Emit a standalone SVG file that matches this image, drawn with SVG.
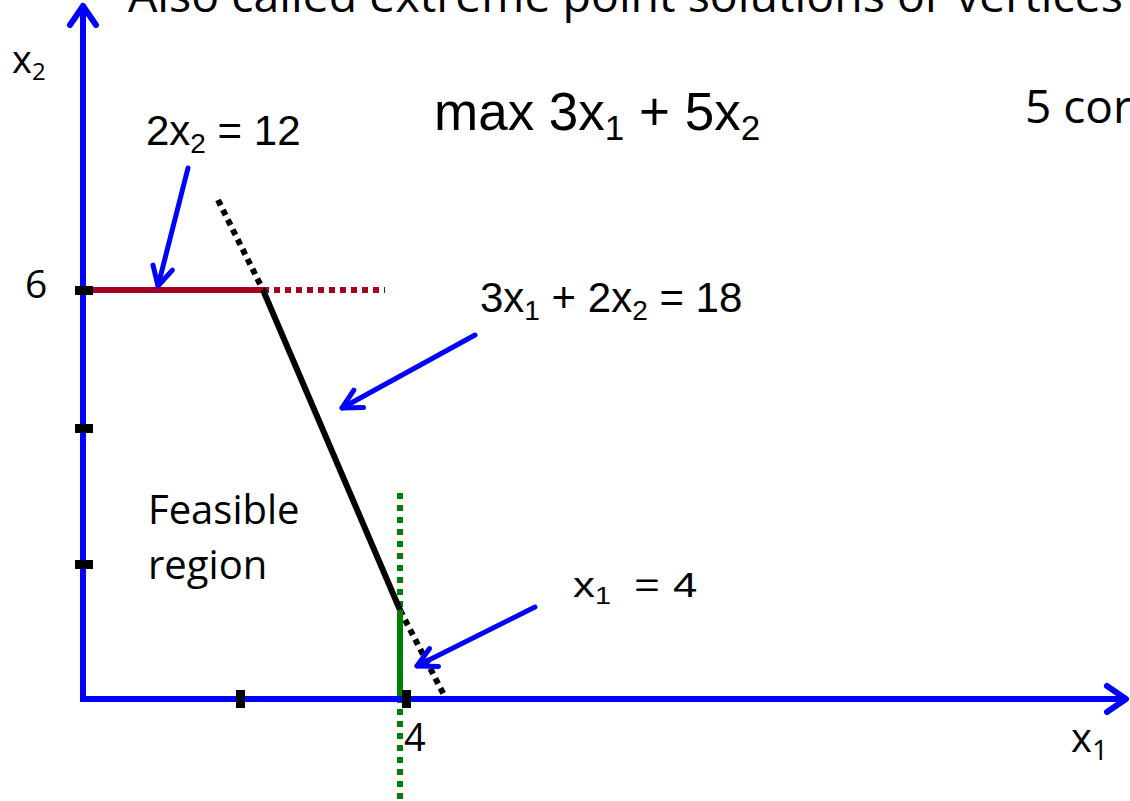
<svg xmlns="http://www.w3.org/2000/svg" width="1130" height="801" viewBox="0 0 1130 801">
<style>
.cal{font-family:"Open Sans","Noto Sans","DejaVu Sans",sans-serif;fill:#000}
.ar{font-family:"Liberation Sans",Arial,sans-serif;fill:#000}
.axis{stroke:#0000FF;stroke-width:6;fill:none}
.ptr{stroke:#0000FF;stroke-width:5;fill:none;stroke-linecap:round}
.tick{fill:#000}
</style>
<defs>
<marker id="axhead" markerUnits="userSpaceOnUse" viewBox="-26 -18 32 36" markerWidth="32" markerHeight="36" refX="0" refY="0" orient="auto">
<path d="M-19,-13 L0,0 L-19,13" fill="none" stroke="#0000FF" stroke-width="6" stroke-linecap="round" stroke-linejoin="round"/>
</marker>
<marker id="ptrhead" markerUnits="userSpaceOnUse" viewBox="-26 -16 32 32" markerWidth="32" markerHeight="32" refX="0" refY="0" orient="auto">
<path d="M-19,-10 L0,0 L-19,10" fill="none" stroke="#0000FF" stroke-width="5" stroke-linecap="round" stroke-linejoin="round"/>
</marker>
</defs>
<rect width="1130" height="801" fill="#fff"/>

<g id="title">
<text class="cal" x="128" y="12" font-size="46" textLength="995" lengthAdjust="spacingAndGlyphs">Also called extreme point solutions or vertices</text>
<text class="cal" x="1025" y="123" font-size="46">5 cor</text>
</g>

<g id="constraints">
<line x1="400" y1="493" x2="400" y2="801" stroke="#008000" stroke-width="6" stroke-dasharray="6 6"/>
<line x1="263" y1="290" x2="385" y2="290" stroke="#A50021" stroke-width="6" stroke-dasharray="6 5"/>
<line x1="218" y1="200" x2="263" y2="290" stroke="#000" stroke-width="6" stroke-dasharray="6 5"/>
<line x1="400" y1="610" x2="445" y2="697" stroke="#000" stroke-width="6" stroke-dasharray="6 5"/>
<line x1="83" y1="290" x2="263" y2="290" stroke="#A50021" stroke-width="6"/>
<line x1="263" y1="290" x2="400" y2="610" stroke="#000" stroke-width="6"/>
<line x1="400" y1="610" x2="400" y2="699" stroke="#008000" stroke-width="6"/>
</g>

<g id="axes">
<line class="axis" x1="83" y1="702" x2="83" y2="6" marker-end="url(#axhead)"/>
<line class="axis" x1="80" y1="699" x2="1126" y2="699" marker-end="url(#axhead)"/>
<rect class="tick" x="75" y="286" width="18" height="9"/>
<rect class="tick" x="75" y="424" width="18" height="9"/>
<rect class="tick" x="75" y="560" width="18" height="9"/>
<rect class="tick" x="236" y="690" width="9" height="18"/>
<rect class="tick" x="402" y="690" width="9" height="18"/>
<text class="cal" x="12" y="73" font-size="38">x<tspan font-size="24" dy="7">2</tspan></text>
<text class="cal" x="1071" y="752" font-size="40">x<tspan font-size="28" dy="8">1</tspan></text>
<text class="cal" x="25" y="298" font-size="39">6</text>
<text class="cal" x="404" y="751" font-size="38">4</text>
</g>

<g id="objective">
<text class="ar" x="434" y="130" font-size="53">max 3x<tspan font-size="35" dy="10">1</tspan><tspan dy="-10"> + 5x</tspan><tspan font-size="35" dy="10">2</tspan></text>
</g>

<g id="feasible-region">
<text class="cal" x="148" y="524" font-size="40">Feasible</text>
<text class="cal" x="148" y="579" font-size="40">region</text>
</g>

<g id="label-2x2">
<text class="ar" x="146" y="145" font-size="42">2x<tspan font-size="28" dy="8">2</tspan><tspan dy="-8"> = 12</tspan></text>
</g>

<g id="label-3x1-2x2">
<text class="ar" x="480" y="312" font-size="42">3x<tspan font-size="28" dy="8">1</tspan><tspan dy="-8"> + 2x</tspan><tspan font-size="28" dy="8">2</tspan><tspan dy="-8"> = 18</tspan></text>
</g>

<g id="label-x1">
<text class="ar" font-size="35" transform="translate(573,597) scale(1.25,1)">x<tspan font-size="23" dy="7">1</tspan><tspan dy="-7" x="49">=</tspan><tspan x="80">4</tspan></text>
</g>

<g id="connectors">
<line class="ptr" x1="188" y1="168" x2="158" y2="286" marker-end="url(#ptrhead)"/>
<line class="ptr" x1="475" y1="335" x2="342" y2="408" marker-end="url(#ptrhead)"/>
<line class="ptr" x1="535" y1="607" x2="417" y2="666" marker-end="url(#ptrhead)"/>
</g>
</svg>
